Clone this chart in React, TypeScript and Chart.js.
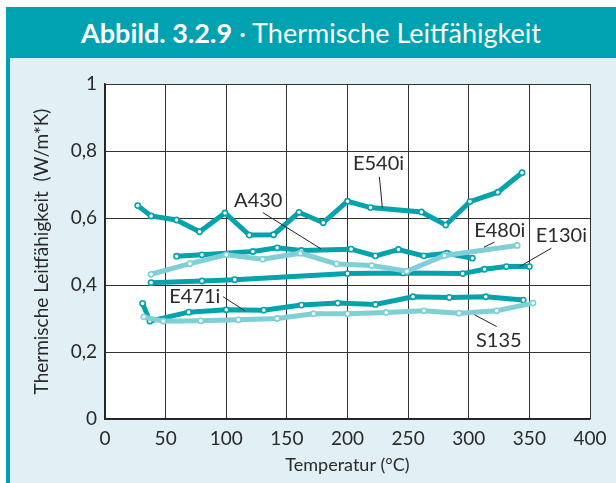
import React, { useEffect, useRef } from "react";
import { Chart, registerables } from "chart.js";

Chart.register(...registerables);

// ---- data (temperature °C, conductivity W/m*K) ----
const xTicks = [0, 50, 100, 150, 200, 250, 300, 350, 400];
const yTickValues = [0, 0.2, 0.4, 0.6, 0.8, 1];
const yTickLabels = ["0", "0,2", "0,4", "0,6", "0,8", "1"];

const e540i: [number, number][] = [
  [27, 0.637], [38, 0.606], [59, 0.594], [78, 0.559], [99, 0.615], [119, 0.549],
  [139, 0.55], [160, 0.617], [180, 0.586], [200, 0.65], [219, 0.631], [261, 0.618],
  [281, 0.579], [301, 0.649], [324, 0.677], [344, 0.735],
];
const a430: [number, number][] = [
  [59, 0.486], [80, 0.49], [122, 0.5], [142, 0.511], [162, 0.503], [203, 0.507],
  [223, 0.487], [242, 0.506], [263, 0.487], [282, 0.495], [303, 0.48],
];
const e480i: [number, number][] = [
  [38, 0.432], [70, 0.464], [100, 0.49], [130, 0.477], [161, 0.495], [191, 0.463],
  [220, 0.458], [249, 0.441], [280, 0.488], [340, 0.518],
];
const e130i: [number, number][] = [
  [38, 0.407], [80, 0.412], [107, 0.416], [200, 0.434], [246, 0.436], [295, 0.434],
  [313, 0.447], [331, 0.455], [350, 0.455],
];
const e471i: [number, number][] = [
  [31, 0.345], [37, 0.292], [69, 0.319], [100, 0.326], [131, 0.325], [162, 0.34],
  [192, 0.346], [223, 0.342], [254, 0.365], [284, 0.363], [314, 0.365], [345, 0.355],
];
const s135: [number, number][] = [
  [32, 0.305], [48, 0.292], [79, 0.293], [110, 0.296], [142, 0.3], [172, 0.314],
  [200, 0.314], [232, 0.318], [263, 0.323], [292, 0.316], [323, 0.323], [353, 0.346],
];

// series labels: text, text anchor (data), leader start, leader end (data)
const labelNames = ["E540i", "A430", "E480i", "E130i", "E471i", "S135"];
const labelAt: [number, number][] = [
  [225.6, 0.763], [126.4, 0.652], [325.6, 0.564], [376.4, 0.549], [74, 0.365], [324.8, 0.233],
];
const leaderFrom: [number, number][] = [
  [226.3, 0.723], [130.2, 0.616], [321.3, 0.528], [368.2, 0.51], [97.4, 0.365], [323, 0.276],
];
const leaderTo: [number, number][] = [
  [228.8, 0.629], [178.1, 0.508], [312.6, 0.513], [342, 0.455], [115.3, 0.323], [304.8, 0.311],
];

const DARK = "#03a3ad";
const LIGHT = "#7fcfd6";
const FONT = "Lato, 'Open Sans', sans-serif";

const toXY = (a: [number, number][]) => a.map(([x, y]) => ({ x, y }));

const chartAreaBg = {
  id: "chartAreaBg",
  beforeDraw(chart: any) {
    const { ctx, chartArea } = chart;
    ctx.save();
    ctx.fillStyle = "#ffffff";
    ctx.fillRect(chartArea.left, chartArea.top, chartArea.right - chartArea.left, chartArea.bottom - chartArea.top);
    ctx.restore();
  },
};

const seriesLabels = {
  id: "seriesLabels",
  afterDatasetsDraw(chart: any) {
    const { ctx, scales } = chart;
    const xs = scales.x;
    const ys = scales.y;
    ctx.save();
    ctx.strokeStyle = "#222";
    ctx.lineWidth = 1;
    ctx.fillStyle = "#2a2a2a";
    ctx.font = `20px ${FONT}`;
    ctx.textAlign = "center";
    ctx.textBaseline = "middle";
    labelNames.forEach((name, i) => {
      const [fx, fy] = leaderFrom[i];
      const [tx, ty] = leaderTo[i];
      ctx.beginPath();
      ctx.moveTo(xs.getPixelForValue(fx), ys.getPixelForValue(fy));
      ctx.lineTo(xs.getPixelForValue(tx), ys.getPixelForValue(ty));
      ctx.stroke();
      const [lx, ly] = labelAt[i];
      ctx.fillText(name, xs.getPixelForValue(lx), ys.getPixelForValue(ly));
    });
    ctx.restore();
  },
};

function mk(label: string, data: [number, number][], color: string) {
  return {
    label,
    data: toXY(data),
    borderColor: color,
    backgroundColor: "#ffffff",
    borderWidth: 5,
    pointRadius: 2.6,
    pointBorderWidth: 1.6,
    pointBorderColor: color,
    pointBackgroundColor: "#ffffff",
    tension: 0,
    fill: false,
  };
}

export default function App() {
  const ref = useRef<HTMLCanvasElement>(null);
  useEffect(() => {
    if (!ref.current) return;
    const chart = new Chart(ref.current, {
      type: "line",
      data: {
        datasets: [
          mk("S135", s135, LIGHT),
          mk("E480i", e480i, LIGHT),
          mk("E471i", e471i, DARK),
          mk("E130i", e130i, DARK),
          mk("A430", a430, DARK),
          mk("E540i", e540i, DARK),
        ],
      },
      options: {
        responsive: false,
        animation: false,
        maintainAspectRatio: false,
        layout: { padding: { left: 0, top: 84, right: 26, bottom: 0 } },
        plugins: { legend: { display: false }, tooltip: { enabled: false }, title: { display: false } },
        scales: {
          x: {
            type: "linear",
            min: 0,
            max: 400,
            afterBuildTicks: (s: any) => {
              s.ticks = xTicks.map((v) => ({ value: v }));
            },
            afterFit: (s: any) => {
              s.height = 64;
            },
            grid: { color: "#333", lineWidth: 1, drawTicks: false },
            border: { color: "#222", width: 1.5 },
            ticks: {
              color: "#2a2a2a",
              font: { family: FONT, size: 19 },
              padding: 8,
              maxRotation: 0,
              callback: (v: any) => String(v),
            },
            title: {
              display: true,
              text: "Temperatur (°C)",
              color: "#2a2a2a",
              font: { family: FONT, size: 18 },
              padding: { top: 0, bottom: 7 },
            },
          },
          y: {
            type: "linear",
            min: 0,
            max: 1,
            afterBuildTicks: (s: any) => {
              s.ticks = yTickValues.map((v) => ({ value: v }));
            },
            afterFit: (s: any) => {
              s.width = 105;
            },
            grid: { color: "#333", lineWidth: 1, drawTicks: false },
            border: { color: "#222", width: 1.5 },
            ticks: {
              color: "#2a2a2a",
              font: { family: FONT, size: 19 },
              padding: 8,
              callback: (v: any) => {
                const i = yTickValues.findIndex((t) => Math.abs(t - v) < 1e-6);
                return i >= 0 ? yTickLabels[i] : "";
              },
            },
            title: {
              display: true,
              text: "Thermische Leitfähigkeit  (W/m*K)",
              color: "#2a2a2a",
              font: { family: FONT, size: 19 },
              padding: { top: 30, bottom: 0 },
            },
          },
        },
      },
      plugins: [chartAreaBg, seriesLabels],
    } as any);
    return () => chart.destroy();
  }, []);

  return (
    <div style={{ position: "fixed", left: 0, top: 0, width: 616, height: 483, background: "#ffffff", overflow: "hidden" }}>
      <div
        style={{
          position: "absolute",
          left: 6,
          top: 7,
          width: 610,
          height: 51,
          background: "#00a2b1",
          color: "#ffffff",
          fontFamily: FONT,
          fontSize: 27,
          lineHeight: "51px",
          textAlign: "center",
          whiteSpace: "nowrap",
        }}
      >
        <span style={{ fontWeight: 700 }}>Abbild. 3.2.9</span>
        <span> · Thermische Leitfähigkeit</span>
      </div>
      <div
        style={{
          position: "absolute",
          left: 6,
          top: 58,
          width: 610,
          height: 425,
          background: "#e1f0f4",
          borderLeft: "4px solid #00a2b1",
          boxSizing: "border-box",
        }}
      />
      <canvas ref={ref} width={616} height={483} style={{ position: "absolute", left: 0, top: 0, width: 616, height: 483 }} />
    </div>
  );
}
